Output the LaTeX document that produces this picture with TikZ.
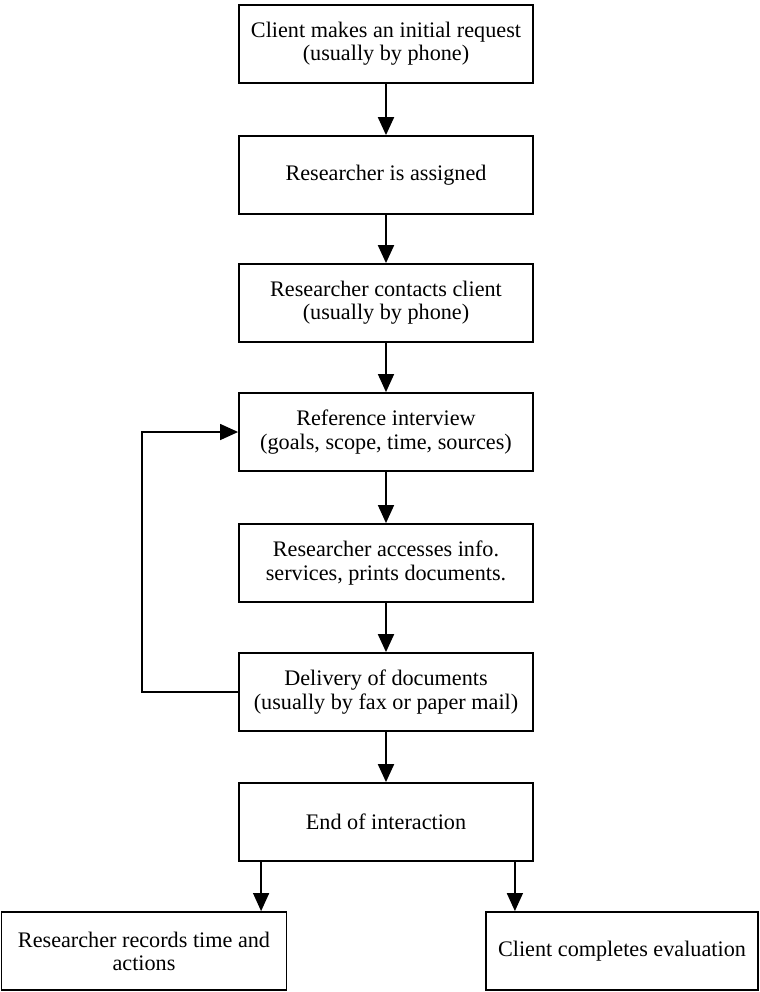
\documentclass[tikz,border=0pt]{standalone}
\usepackage{fontspec}
\setmainfont{Liberation Serif}
\usetikzlibrary{positioning,arrows.meta}
\tikzset{>={Triangle[width=8pt,length=9pt]}}

\begin{document}
\begin{tikzpicture}[x=0.5pt, y=-0.5pt, shorten >=0pt,
    align=center,
    font=\fontsize{11.1}{11.6}\selectfont,
    box/.style={rectangle, draw=black, line width=0.9pt, fill=white,
                inner sep=0pt, minimum width=147pt, minimum height=39pt},
    arr/.style={draw, ->, line width=1pt},
    thinarr/.style={draw, ->, line width=0.7pt}]
    \useasboundingbox (0,0) rectangle (760,992);

    \node [box] (b1) at (386,44) {Client makes an initial request\\ (usually by phone)};
    \node [box] (b2) at (386,175) {Researcher is assigned};
    \node [box] (b3) at (386,303) {Researcher contacts client\\ (usually by phone)};
    \node [box] (b4) at (386,432) {Reference interview\\ (goals, scope, time, sources)};
    \node [box] (b5) at (386,563) {Researcher accesses info.\\ services, prints documents.};
    \node [box] (b6) at (386,692) {Delivery of documents\\ (usually by fax or paper mail)};
    \node [box] (b7) at (386,822) {End of interaction};

    \node [box, minimum width=142.5pt] (b8) at (144,951) {Researcher records time and\\ actions};
    \node [box, minimum width=136pt] (b9) at (622,951) {Client completes evaluation};

    \path [arr] (b1) edge (b2);
    \path [arr] (b2) edge (b3);
    \path [thinarr] (b3) edge (b4);
    \path [thinarr] (b4) edge (b5);
    \path [arr] (b5) edge (b6);
    \path [arr] (b6) edge (b7);

    % split to the two closing steps
    \draw [thinarr] ([xshift=11.5pt]b7.south west) -- ([xshift=11.5pt]b7.south west |- b8.north);
    \draw [thinarr] ([xshift=-9.5pt]b7.south east) -- ([xshift=-9.5pt]b7.south east |- b9.north);

    % loop back to the interview
    \coordinate (loop) at (142,0);
    \draw [thinarr] (b6.west) -- (b6.west -| loop) |- (b4.west);

\end{tikzpicture}
\end{document}
